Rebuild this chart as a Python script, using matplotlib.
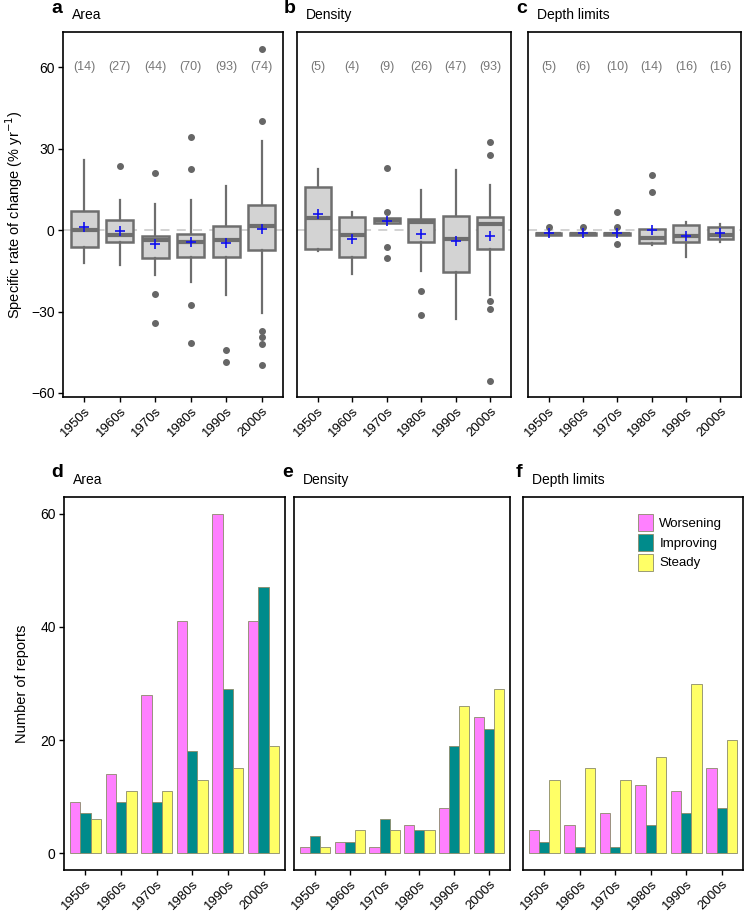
import matplotlib
matplotlib.use("Agg")
import matplotlib.pyplot as plt

plt.rcParams['font.family'] = ['Liberation Sans', 'DejaVu Sans']

decades = ['1950s', '1960s', '1970s', '1980s', '1990s', '2000s']

# ---- box plot summaries: (whislo, q1, med, q3, whishi, mean, fliers)
area_box = [
    (-12.2, -6.1, 0.0, 7.0, 26.0, 1.0, []),
    (-12.9, -4.5, -1.8, 3.7, 11.0, -0.4, [23.5]),
    (-16.5, -10.4, -3.7, -2.0, 9.8, -5.3, [21.2, -23.6, -34.4]),
    (-19.0, -9.8, -4.2, -1.5, 11.0, -4.3, [34.3, 22.4, -27.5, -41.6]),
    (-23.9, -9.8, -3.8, 1.6, 16.3, -4.9, [-44.0, -48.7]),
    (-30.4, -7.3, 1.5, 9.3, 32.8, 0.4, [66.7, 40.1, -37.1, -39.4, -42.1, -49.6]),
]
density_box = [
    (-7.6, -7.1, 4.4, 15.9, 22.6, 5.8, []),
    (-16.2, -9.9, -1.8, 4.7, 6.6, -3.3, []),
    (2.7, 2.7, 3.7, 4.3, 4.3, 3.4, [22.9, 6.6, -6.1, -10.3]),
    (-15.1, -4.4, 3.1, 4.0, 14.9, -1.6, [-22.3, -31.2]),
    (-32.7, -15.3, -3.4, 5.1, 22.0, -3.9, []),
    (-23.9, -7.1, 2.2, 4.9, 16.8, -2.0, [32.6, 27.5, -26.3, -29.0, -55.7]),
]
depth_box = [
    (-1.9, -1.8, -1.3, -0.9, -0.8, -1.0, [1.2]),
    (-1.9, -1.8, -1.3, -0.9, -0.8, -0.9, [1.1]),
    (-1.9, -1.8, -1.3, -0.9, -0.8, -1.0, [6.6, 1.1, -5.1]),
    (-5.5, -4.8, -2.9, 0.5, 0.5, 0.2, [20.4, 14.2]),
    (-10.0, -4.5, -2.2, 1.7, 2.9, -2.1, []),
    (-4.2, -3.4, -1.7, 1.2, 2.4, -1.2, []),
]
area_n = [14, 27, 44, 70, 93, 74]
density_n = [5, 4, 9, 26, 47, 93]
depth_n = [5, 6, 10, 14, 16, 16]

# ---- number of reports
area_worse = [9, 14, 28, 41, 60, 41]
area_improve = [7, 9, 9, 18, 29, 47]
area_steady = [6, 11, 11, 13, 15, 19]
density_worse = [1, 2, 1, 5, 8, 24]
density_improve = [3, 2, 6, 4, 19, 22]
density_steady = [1, 4, 4, 4, 26, 29]
depth_worse = [4, 5, 7, 12, 11, 15]
depth_improve = [2, 1, 1, 5, 7, 8]
depth_steady = [13, 15, 13, 17, 30, 20]

W, H = 745, 915
fig = plt.figure(figsize=(W / 100, H / 100), dpi=100)

def px_axes(x0, x1, y0, y1):
    return fig.add_axes([x0 / W, 1 - y1 / H, (x1 - x0) / W, (y1 - y0) / H])

top_axes = [px_axes(63, 283, 32, 397), px_axes(297, 511, 32, 397), px_axes(528, 741, 32, 397)]
bot_axes = [px_axes(64, 285, 497, 870), px_axes(294, 510, 497, 870), px_axes(523, 743, 497, 870)]

def style(ax, show_y):
    for s in ax.spines.values():
        s.set_linewidth(1.2)
    ax.tick_params(axis='both', labelsize=10, length=3.5, width=1.0, color='black', pad=2.5)
    ax.tick_params(axis='x', labelsize=9.5, pad=2)
    ax.set_xticks(range(1, 7))
    ax.set_xticklabels(decades, rotation=45, ha='right', rotation_mode='anchor')
    ax.set_xlim(0.4, 6.6)
    if not show_y:
        ax.set_yticks([])

def panel_title(ax, letter, title):
    ax.text(-0.005, 1.042, letter, transform=ax.transAxes, fontsize=14, fontweight='bold',
            ha='right', va='bottom')
    ax.text(0.04, 1.027, title, transform=ax.transAxes, fontsize=10, ha='left', va='bottom')

box_sets = [area_box, density_box, depth_box]
n_sets = [area_n, density_n, depth_n]
titles = ['Area', 'Density', 'Depth limits']

for i, ax in enumerate(top_axes):
    stats = []
    for lo, q1, med, q3, hi, mean, fl in box_sets[i]:
        stats.append(dict(whislo=lo, q1=q1, med=med, q3=q3, whishi=hi, mean=mean, fliers=fl))
    ax.axhline(0, color='#cfcfcf', lw=1.3, ls=(0, (5, 4)), zorder=0)
    ax.bxp(stats, positions=range(1, 7), widths=0.75, patch_artist=True,
           showmeans=True, showcaps=False,
           boxprops=dict(facecolor='#d3d3d3', edgecolor='#6e6e6e', linewidth=1.8),
           medianprops=dict(color='#6e6e6e', linewidth=3.0),
           whiskerprops=dict(color='#6e6e6e', linewidth=1.6),
           flierprops=dict(marker='o', markerfacecolor='#666666', markeredgecolor='#666666',
                           markersize=4),
           meanprops=dict(marker='+', markeredgecolor='#1010ee', markersize=7,
                          markeredgewidth=1.2))
    for j, n in enumerate(n_sets[i]):
        ax.text(j + 1, 60, '(%d)' % n, ha='center', va='center', fontsize=9, color='#777777')
    ax.set_ylim(-61.5, 73)
    style(ax, i == 0)
    if i == 0:
        ax.set_yticks([-60, -30, 0, 30, 60])
        ax.set_yticklabels(['\u221260', '\u221230', '0', '30', '60'])
        ax.set_ylabel('Specific rate of change (% yr$^{-1}$)', fontsize=10.5, labelpad=4)
    panel_title(ax, 'abc'[i], titles[i])

bar_sets = [
    (area_worse, area_improve, area_steady),
    (density_worse, density_improve, density_steady),
    (depth_worse, depth_improve, depth_steady),
]
colors = ['#ff80ff', '#008b8b', '#ffff66']
labels = ['Worsening', 'Improving', 'Steady']
bw = 0.29
x = list(range(1, 7))

for i, ax in enumerate(bot_axes):
    for k, vals in enumerate(bar_sets[i]):
        ax.bar([p + (k - 1) * bw for p in x], vals, width=bw, color=colors[k],
               edgecolor='#8a8a6a', linewidth=0.6, label=labels[k])
    ax.set_ylim(-3, 63)
    style(ax, i == 0)
    if i == 0:
        ax.set_yticks([0, 20, 40, 60])
        ax.set_ylabel('Number of reports', fontsize=10.5, labelpad=8)
    panel_title(ax, 'def'[i], titles[i])

bot_axes[2].legend(loc='upper right', bbox_to_anchor=(0.96, 0.985), frameon=False,
                   fontsize=9.5, handlelength=1.15, handleheight=1.6, handletextpad=0.5,
                   labelspacing=0.2)

fig.savefig('out.png', dpi=100)
